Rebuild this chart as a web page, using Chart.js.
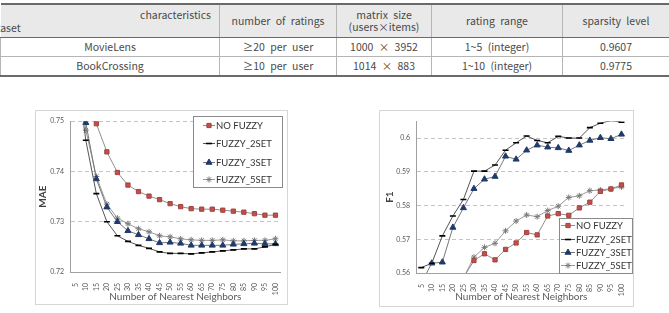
<!DOCTYPE html>
<html>
<head>
<meta charset="utf-8">
<script src="https://cdn.jsdelivr.net/npm/chart.js@4.4.1/dist/chart.umd.min.js"></script>
<style>
  body { margin: 0; width: 669px; height: 313px; background: #fff; overflow: hidden; position: relative; }
  #tbl { position: absolute; left: 0; top: 3px; }
  table { border-collapse: collapse; table-layout: fixed; width: 669px;
          font-family: "Noto Sans CJK KR", "DejaVu Sans", sans-serif; font-size: 10.5px; color: #4a4a4a; word-spacing: 3px; }
  th, td { border-left: 1px solid #b5b5b5; border-right: 1px solid #b5b5b5; text-align: center; padding: 0; font-weight: normal; line-height: 12px; }
  tr.hd th { background: #e9e9e9; height: 32px; border-top: 2px solid #6a6a6a; border-bottom: 1px solid #6a6a6a; }
  tr.r td { height: 18px; border-bottom: 1px solid #b5b5b5; }
  tr.r.last td { border-bottom: 2px solid #6a6a6a; }
  th.diag { position: relative; border-left: none;
            background: linear-gradient(to top right, transparent calc(50% - 0.7px), #333 50%, transparent calc(50% + 0.7px)), #e9e9e9; }
  th.diag .c { position: absolute; right: 8px; top: 4px; word-spacing: 0; }
  th.diag .d { position: absolute; left: -17px; bottom: 3px; }
  .box { position: absolute; border: 1px solid #d6d6d6; box-sizing: border-box; }
  #boxL { left: 35px; top: 110px; width: 253px; height: 195px; }
  #boxR { left: 379px; top: 110px; width: 255px; height: 197px; }
  canvas { display: block; }
</style>
</head>
<body>
<div id="tbl"></div>
<div class="box" id="boxL"><canvas id="maeChart" width="251" height="193"></canvas></div>
<div class="box" id="boxR"><canvas id="f1Chart" width="253" height="195"></canvas></div>
<script>
// Table content
const tableHead = ['number of ratings', 'matrix size<br>(users×items)', 'rating range', 'sparsity level'];
const tableRows = [
  ['MovieLens', '≥20 per user', '1000 × 3952', '1~5 (integer)', '0.9607'],
  ['BookCrossing', '≥10 per user', '1014 × 883', '1~10 (integer)', '0.9775']
];
const colWidths = [219, 117, 95, 131, 107];

// Chart data
const neighbors = ['5', '10', '15', '20', '25', '30', '35', '40', '45', '50', '55', '60', '65', '70', '75', '80', '85', '90', '95', '100'];
const seriesNames = ['NO FUZZY', 'FUZZY_2SET', 'FUZZY_3SET', 'FUZZY_5SET'];

const maeNoFuzzy = [null, null, 0.7495, 0.7439, 0.7398, 0.7373, 0.7360, 0.7351, 0.7344, 0.7336, 0.7330, 0.7326, 0.7325, 0.7325, 0.7323, 0.7321, 0.7319, 0.7316, 0.7313, 0.7313];
const mae2Set = [0.762, 0.7462, 0.7356, 0.7300, 0.7272, 0.7261, 0.7253, 0.7247, 0.7240, 0.7237, 0.7237, 0.7236, 0.7238, 0.7240, 0.7242, 0.7244, 0.7246, 0.7246, 0.7250, 0.7255];
const mae3Set = [0.765, 0.7497, 0.7385, 0.7329, 0.7300, 0.7282, 0.7274, 0.7266, 0.7258, 0.7259, 0.7257, 0.7253, 0.7253, 0.7253, 0.7253, 0.7255, 0.7256, 0.7257, 0.7256, 0.7256];
const mae5Set = [0.764, 0.7482, 0.7390, 0.7335, 0.7307, 0.7296, 0.7286, 0.7280, 0.7272, 0.7270, 0.7266, 0.7264, 0.7263, 0.7263, 0.7264, 0.7262, 0.7262, 0.7263, 0.7263, 0.7266];

const f1NoFuzzy = [null, null, null, null, 0.5586, 0.5637, 0.5657, 0.5639, 0.5670, 0.5689, 0.5720, 0.5713, 0.5769, 0.5776, 0.5771, 0.5793, 0.5810, 0.5842, 0.5849, 0.5861];
const f12Set = [0.5616, 0.5629, 0.5710, 0.5769, 0.5818, 0.5902, 0.5902, 0.5920, 0.5964, 0.5986, 0.6006, 0.5993, 0.5986, 0.6005, 0.6000, 0.6000, 0.6031, 0.6044, 0.6052, 0.6047];
const f13Set = [0.5570, 0.5629, 0.5632, 0.5735, 0.5793, 0.5850, 0.5878, 0.5886, 0.5946, 0.5937, 0.5964, 0.5979, 0.5973, 0.5971, 0.5963, 0.5979, 0.5993, 0.6001, 0.5998, 0.6011];
const f15Set = [null, null, null, null, 0.5585, 0.5647, 0.5676, 0.5688, 0.5725, 0.5754, 0.5772, 0.5767, 0.5785, 0.5798, 0.5824, 0.5829, 0.5844, 0.5846, 0.5850, 0.5855];

const maeTicks = [0.72, 0.73, 0.74, 0.75];
const f1Ticks = [0.56, 0.57, 0.58, 0.59, 0.6];

// Build the table
function buildTable() {
  let html = '<table><colgroup>' + colWidths.map(w => `<col style="width:${w}px">`).join('') + '</colgroup>';
  html += '<tr class="hd"><th class="diag"><span class="c">characteristics</span><span class="d">Dataset</span></th>';
  html += tableHead.map(h => `<th>${h}</th>`).join('') + '</tr>';
  tableRows.forEach((row, i) => {
    html += `<tr class="r${i === tableRows.length - 1 ? ' last' : ''}">` + row.map(c => `<td>${c}</td>`).join('') + '</tr>';
  });
  html += '</table>';
  document.getElementById('tbl').innerHTML = html;
}

// Dataset looks
const seriesStyles = [
  { borderColor: '#8f8f8f', pointStyle: 'rect', pointRadius: 3, pointBackgroundColor: '#c0504d', pointBorderColor: '#a5403d', pointBorderWidth: 1 },
  { borderColor: '#555', pointStyle: 'line', pointRadius: 3, pointBackgroundColor: '#000', pointBorderColor: '#000', pointBorderWidth: 1.6 },
  { borderColor: '#777', pointStyle: 'triangle', pointRadius: 3.5, pointBackgroundColor: '#1f3a6b', pointBorderColor: '#1f3a6b', pointBorderWidth: 1 },
  { borderColor: '#9a9a9a', pointStyle: 'star', pointRadius: 3, pointBackgroundColor: '#888', pointBorderColor: '#7a7a7a', pointBorderWidth: 1 }
];

function makeDatasets(seriesList) {
  return seriesList.map((values, i) => Object.assign({
    label: seriesNames[i],
    data: values,
    borderWidth: 1,
    tension: 0,
    spanGaps: false
  }, seriesStyles[i]));
}

// Legend drawn inside the plot area
const insideLegend = {
  id: 'insideLegend',
  afterDraw(chart, args, opts) {
    const ctx = chart.ctx;
    ctx.save();
    ctx.fillStyle = '#fff';
    ctx.fillRect(opts.x, opts.y, opts.w, opts.h);
    ctx.strokeStyle = '#8a8a8a';
    ctx.lineWidth = 1;
    ctx.strokeRect(opts.x + 0.5, opts.y + 0.5, opts.w, opts.h);
    ctx.font = '9.5px Lato, "Open Sans", sans-serif';
    ctx.textBaseline = 'middle';
    chart.data.datasets.forEach((ds, i) => {
      const y = opts.rows[i];
      ctx.strokeStyle = ds.borderColor;
      ctx.lineWidth = 1;
      ctx.beginPath();
      ctx.moveTo(opts.sx, y + 0.5);
      ctx.lineTo(opts.ex, y + 0.5);
      ctx.stroke();
      ctx.fillStyle = ds.pointBackgroundColor;
      ctx.strokeStyle = ds.pointBorderColor;
      ctx.lineWidth = ds.pointBorderWidth;
      Chart.helpers.drawPoint(ctx, { pointStyle: ds.pointStyle, radius: ds.pointRadius, rotation: 0, borderWidth: ds.pointBorderWidth }, (opts.sx + opts.ex) / 2, y + 0.5);
      ctx.fillStyle = '#333';
      ctx.fillText(ds.label, opts.tx, y + 1);
    });
    ctx.restore();
  }
};

const tickFont = { family: 'Lato, "Open Sans", sans-serif', size: 7 };
const titleFont = { family: 'Lato, "Open Sans", sans-serif', size: 10 };

function makeChart(canvasId, datasets, yMin, yMax, yTitle, layout, legendOpts, tickList) {
  return new Chart(document.getElementById(canvasId), {
    type: 'line',
    data: { labels: neighbors, datasets: datasets },
    options: {
      responsive: false,
      animation: false,
      layout: { padding: { left: 0, right: layout.right, top: layout.top, bottom: 0 } },
      plugins: {
        legend: { display: false },
        tooltip: { enabled: false },
        insideLegend: legendOpts
      },
      scales: {
        x: {
          offset: true,
          grid: { display: false },
          border: { display: true, color: '#a0a0a0' },
          ticks: { autoSkip: false, minRotation: 90, maxRotation: 90, padding: 3, color: '#595959', font: tickFont },
          title: { display: true, text: 'Number of Nearest Neighbors', color: '#595959', font: titleFont, padding: { top: 0, bottom: layout.xTitlePad } },
          afterFit(scale) { scale.height = layout.xHeight; }
        },
        y: {
          min: yMin,
          max: yMax,
          afterBuildTicks(scale) { scale.ticks = tickList.map(v => ({ value: v })); },
          grid: {
            drawTicks: false,
            color: ctx => (ctx.tick && Math.abs(ctx.tick.value - yMin) < 1e-9) ? 'rgba(0,0,0,0)' : '#c4c4c4'
          },
          border: { display: true, color: '#a0a0a0', dash: [4, 3] },
          ticks: { padding: 6, color: '#595959', font: tickFont, callback: v => String(Math.round(v * 100) / 100) },
          title: { display: true, text: yTitle, color: '#404040', font: Object.assign({ weight: 'bold' }, titleFont), padding: { top: layout.yTitlePad, bottom: 0 } },
          afterFit(scale) { scale.width = layout.yWidth; }
        }
      }
    },
    plugins: [insideLegend]
  });
}

document.addEventListener('DOMContentLoaded', () => {
  buildTable();

  makeChart('maeChart', makeDatasets([maeNoFuzzy, mae2Set, mae3Set, mae5Set]), 0.72, 0.75, 'MAE',
    { right: 4, top: 8, xHeight: 32, yWidth: 34, xTitlePad: 1, yTitlePad: 1 },
    { x: 157, y: 5, w: 89, h: 71, rows: [14, 32, 51, 68], sx: 167, ex: 179, tx: 180 },
    maeTicks);

  makeChart('f1Chart', makeDatasets([f1NoFuzzy, f12Set, f13Set, f15Set]), 0.56, 0.605, 'F1',
    { right: 5, top: 8, xHeight: 33, yWidth: 36, xTitlePad: 3, yTitlePad: 4 },
    { x: 179, y: 107, w: 73, h: 55, rows: [114, 128, 141, 154], sx: 181, ex: 195, tx: 196 },
    f1Ticks);
});
</script>
</body>
</html>
